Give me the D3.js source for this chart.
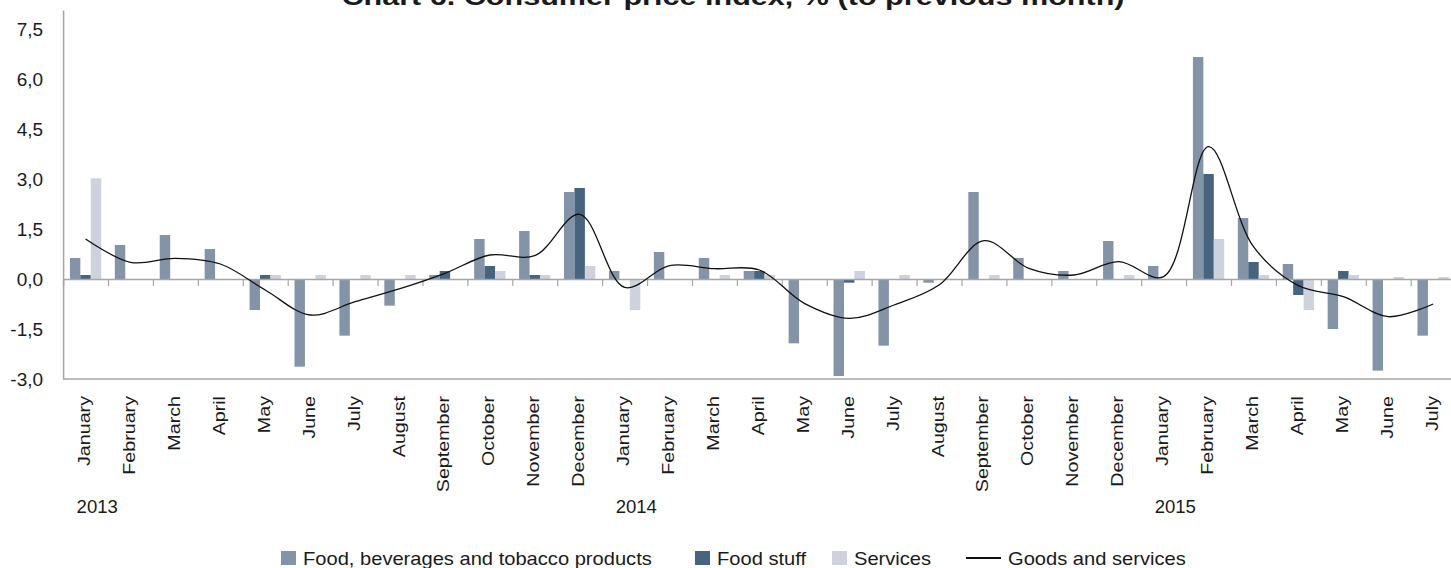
<!DOCTYPE html>
<html><head><meta charset="utf-8">
<script src="https://cdn.jsdelivr.net/npm/d3@7"></script>
<style>
html,body{margin:0;padding:0;background:#fff;}
svg{display:block;font-family:"Liberation Sans",Arial,sans-serif;}
</style></head>
<body>
<svg id="chart" width="1451" height="568"></svg>
<script>
const title = "Chart 6. Consumer price index, % (to previous month)";
const months = ["January","February","March","April","May","June","July","August","September","October","November","December",
  "January","February","March","April","May","June","July","August","September","October","November","December",
  "January","February","March","April","May","June","July"];
const years = [{label:"2013", index:0},{label:"2014", index:12},{label:"2015", index:24}];
const seriesNames = ["Food, beverages and tobacco products","Food stuff","Services"];
const lineName = "Goods and services";
const foodBev = [0.63,1.02,1.32,0.90,-0.93,-2.63,-1.70,-0.80,0.12,1.20,1.44,2.61,
  0.24,0.81,0.63,0.24,-1.93,-2.91,-2.00,-0.11,2.61,0.63,0.24,1.14,
  0.39,6.66,1.83,0.45,-1.50,-2.75,-1.70];
const foodStuff = [0.12,0,0,0,0.12,0,0,0,0.24,0.39,0.12,2.73,
  0,0,0,0.24,0,-0.11,0,0,0,0,0,0,
  0,3.15,0.51,-0.48,0.24,0,0];
const services = [3.02,0,0,0,0.12,0.12,0.12,0.12,0,0.24,0.12,0.39,
  -0.93,0,0.12,0.12,0,0.24,0.12,0,0.12,0,0,0.12,
  0,1.20,0.12,-0.93,0.12,0.06,0.06];
const goodsServices = [1.20,0.50,0.62,0.45,-0.33,-1.08,-0.68,-0.29,0.17,0.72,0.70,1.94,
  -0.25,0.40,0.31,0.27,-0.73,-1.18,-0.78,-0.18,1.15,0.32,0.12,0.52,
  0.07,3.97,0.97,-0.20,-0.53,-1.13,-0.75];
const yTicks = [-3,-1.5,0,1.5,3,4.5,6,7.5];
const colors = ["#8494a8","#46637f","#cdd2dc"];

const svg = d3.select("#chart");
const left = 63.1, bandW = 44.92, n = months.length;
const x = d3.scaleBand().domain(d3.range(n)).range([left, left + n*bandW]).padding(0);
const xs = d3.scaleBand().domain([0,1,2]).range([6.8, bandW-6.8]).padding(0);
const y = d3.scaleLinear().domain([-3, 8.07]).range([379, 10]);
const idx = d3.scaleLinear().domain([0, n]).range([left, left + n*bandW]);
const axisColor = "#a6a6a6";

// title
svg.append("g").attr("transform", `translate(733,5) scale(1.33,1)`)
  .append("text").attr("text-anchor","middle").attr("font-size",23).attr("font-weight","bold")
  .attr("fill","#1a1a1a").text(title);

// y axis
const ya = svg.append("g").attr("transform",`translate(${left},0)`)
  .call(d3.axisLeft(y).tickValues(yTicks).tickSize(0).tickPadding(20)
    .tickFormat(d => d3.format(".1f")(d).replace(".",",").replace("−","-")));
ya.select(".domain").attr("stroke",axisColor).attr("stroke-width",1.5);
ya.selectAll("text").attr("font-size",19).attr("fill","#1a1a1a").attr("font-family","Liberation Sans, Arial, sans-serif");

// bottom frame line
svg.append("line").attr("x1",left).attr("x2",1451).attr("y1",y(-3)).attr("y2",y(-3))
  .attr("stroke",axisColor).attr("stroke-width",1.5);

// bars
const seriesData = [foodBev, foodStuff, services];
seriesData.forEach((vals, s) => {
  svg.append("g").selectAll("rect").data(vals).join("rect")
    .attr("x",(d,i) => x(i) + xs(s))
    .attr("width", xs.bandwidth())
    .attr("y", d => y(Math.max(0,d)))
    .attr("height", d => Math.abs(y(d) - y(0)))
    .attr("fill", colors[s]);
});

// zero axis with ticks at band boundaries
const za = svg.append("g").attr("transform",`translate(0,${y(0)})`)
  .call(d3.axisBottom(idx).tickValues(d3.range(1,n)).tickSize(7).tickFormat(""));
za.select(".domain").attr("stroke",axisColor).attr("stroke-width",1.5);
za.selectAll(".tick line").attr("stroke",axisColor).attr("stroke-width",1.2);

// line
const line = d3.line().x((d,i) => x(i) + bandW/2).y(d => y(d)).curve(d3.curveCatmullRom.alpha(0.5));
svg.append("path").datum(goodsServices).attr("d", line).attr("fill","none")
  .attr("stroke","#111").attr("stroke-width",1.3);

// month labels
svg.append("g").selectAll("g").data(months).join("g")
  .attr("transform",(d,i) => `translate(${x(i)+bandW/2+4.5},396) rotate(-90) scale(1.23,1)`)
  .append("text").attr("text-anchor","end").attr("font-size",16).attr("fill","#1a1a1a").text(d => d);

// year labels
svg.append("g").selectAll("g").data(years).join("g")
  .attr("transform", d => `translate(${x(d.index)+13.5},512.5) scale(1.06,1)`)
  .append("text").attr("font-size",17.5).attr("fill","#1a1a1a").text(d => d.label);

// legend
const legendItems = [
  {name: seriesNames[0], type:"rect", color: colors[0], x: 281},
  {name: seriesNames[1], type:"rect", color: colors[1], x: 695},
  {name: seriesNames[2], type:"rect", color: colors[2], x: 832},
  {name: lineName, type:"line", color: "#111", x: 966}
];
const lg = svg.append("g");
legendItems.forEach(it => {
  if (it.type === "rect") {
    lg.append("rect").attr("x",it.x).attr("y",551).attr("width",15).attr("height",14).attr("fill",it.color);
  } else {
    lg.append("line").attr("x1",it.x).attr("x2",it.x+35).attr("y1",558).attr("y2",558).attr("stroke",it.color).attr("stroke-width",2);
  }
  const tx = it.type === "rect" ? it.x + 22 : it.x + 42;
  lg.append("g").attr("transform",`translate(${tx},565) scale(1.15,1)`)
    .append("text").attr("font-size",17.5).attr("fill","#1a1a1a").text(it.name);
});
</script>
</body></html>
